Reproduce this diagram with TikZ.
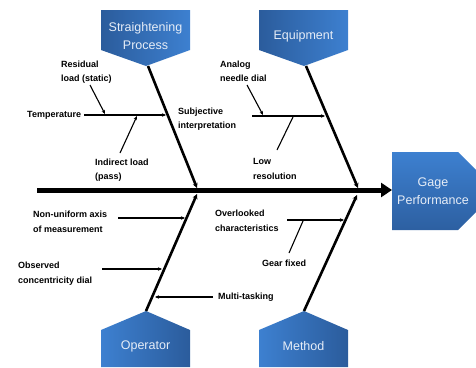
\documentclass[tikz,border=0pt]{standalone}
\usepackage{fontspec}
\setmainfont{Liberation Sans}
\usetikzlibrary{arrows.meta}
\definecolor{bdark}{HTML}{2B5C9C}
\definecolor{blight}{HTML}{3D80D0}
\definecolor{btext}{HTML}{E6EDF7}
\tikzset{
  x=1pt,y=-1pt,
  cat/.style={text=btext,font=\fontsize{12.5}{17.5}\selectfont,align=center},
  lbl/.style={font=\bfseries\fontsize{9}{14.5}\selectfont,align=left,anchor=west,inner sep=0pt},
  bone/.style={line width=2.6pt,-{Stealth[length=5pt,width=5pt]}},
  sub/.style={line width=1.1pt,-{Stealth[length=4pt,width=3.5pt]}},
  subn/.style={line width=1.1pt},
}
\begin{document}
\begin{tikzpicture}
\useasboundingbox (0,0) rectangle (476,367);
% category boxes
\shade[left color=bdark,right color=blight] (101,10) -- (190,10) -- (190,50) -- (146,66) -- (101,50) -- cycle;
\shade[left color=bdark,right color=blight] (259,10) -- (348,10) -- (348,50) -- (304,66) -- (259,50) -- cycle;
\shade[left color=blight,right color=bdark] (101,330) -- (146,311) -- (190,330) -- (190,367) -- (101,367) -- cycle;
\shade[left color=blight,right color=bdark] (259,330) -- (304,311) -- (348,330) -- (348,367) -- (259,367) -- cycle;
\begin{scope}
\clip (0,0) rectangle (476,367);
\shade[top color=blight,bottom color=bdark!90!blight] (392,152) -- (458,152) -- (497,191) -- (458,230) -- (392,230) -- cycle;
\end{scope}
\node[cat] (sp) at (145.5,36) {Straightening\\Process};
\node[cat] (eq) at (303.5,36) {Equipment};
\node[cat] (op) at (145.5,346) {Operator};
\node[cat] (me) at (303.5,346) {Method};
\node[cat] (gp) at (433,191) {Gage\\Performance};
% spine
\coordinate (s0) at (37,190);
\coordinate (s1) at (392,190);
\draw[line width=5pt,-{Triangle[length=11pt,width=14pt]}] (s0) -- (s1);
% bones
\coordinate (spt) at (148,66); \coordinate (spe) at (197,188);
\coordinate (eqt) at (306,66); \coordinate (eqe) at (358,188);
\coordinate (opt) at (146,311); \coordinate (ope) at (197,194);
\coordinate (met) at (304,311); \coordinate (mee) at (357,195);
\draw[bone] (spt) -- (spe);
\draw[bone] (eqt) -- (eqe);
\draw[bone] (opt) -- (ope);
\draw[bone] (met) -- (mee);
% Straightening process causes
\node[lbl] (temp) at (27,115) {Temperature};
\coordinate (t1) at (166,115);
\draw[sub] (temp.east) ++(3,0) coordinate (t0) -- (t1);
\node[lbl] (res) at (61,72) {Residual\\load (static)};
\coordinate (r0) at (90,85); \coordinate (r1) at (105,114);
\draw[sub] (r0) -- (r1);
\node[lbl] (ind) at (95,170) {Indirect load\\(pass)};
\coordinate (i0) at (120,153); \coordinate (i1) at (137,116);
\draw[sub] (i0) -- (i1);
\node[lbl] (subj) at (178,119) {Subjective\\interpretation};
% Equipment causes
\node[lbl] (ana) at (220,71.5) {Analog\\needle dial};
\coordinate (a0) at (247,85); \coordinate (a1) at (263,115);
\draw[sub] (a0) -- (a1);
\coordinate (h0) at (252,116); \coordinate (h1) at (325,116);
\draw[sub] (h0) -- (h1);
\node[lbl] (low) at (253,169) {Low\\resolution};
\coordinate (l0) at (277,150); \coordinate (l1) at (293,117);
\draw[subn] (l0) -- (l1);
% Operator causes
\node[lbl] (non) at (33,222) {Non-uniform axis\\of measurement};
\coordinate (n0) at (118,218); \coordinate (n1) at (185,218);
\draw[sub] (n0) -- (n1);
\node[lbl] (obs) at (18,273.5) {Observed\\concentricity dial};
\coordinate (o0) at (102,269); \coordinate (o1) at (162,269);
\draw[sub] (o0) -- (o1);
\node[lbl] (mul) at (218,297) {Multi-tasking};
\coordinate (m1) at (155,297);
\draw[sub] (mul.west) ++(-5,0) coordinate (m0) -- (m1);
% Method causes
\node[lbl] (ovl) at (215,221) {Overlooked\\characteristics};
\coordinate (v0) at (287,220); \coordinate (v1) at (344,220);
\draw[sub] (v0) -- (v1);
\node[lbl] (gear) at (262,263) {Gear fixed};
\coordinate (g0) at (289,253); \coordinate (g1) at (303,221);
\draw[subn] (g0) -- (g1);
\end{tikzpicture}
\end{document}
